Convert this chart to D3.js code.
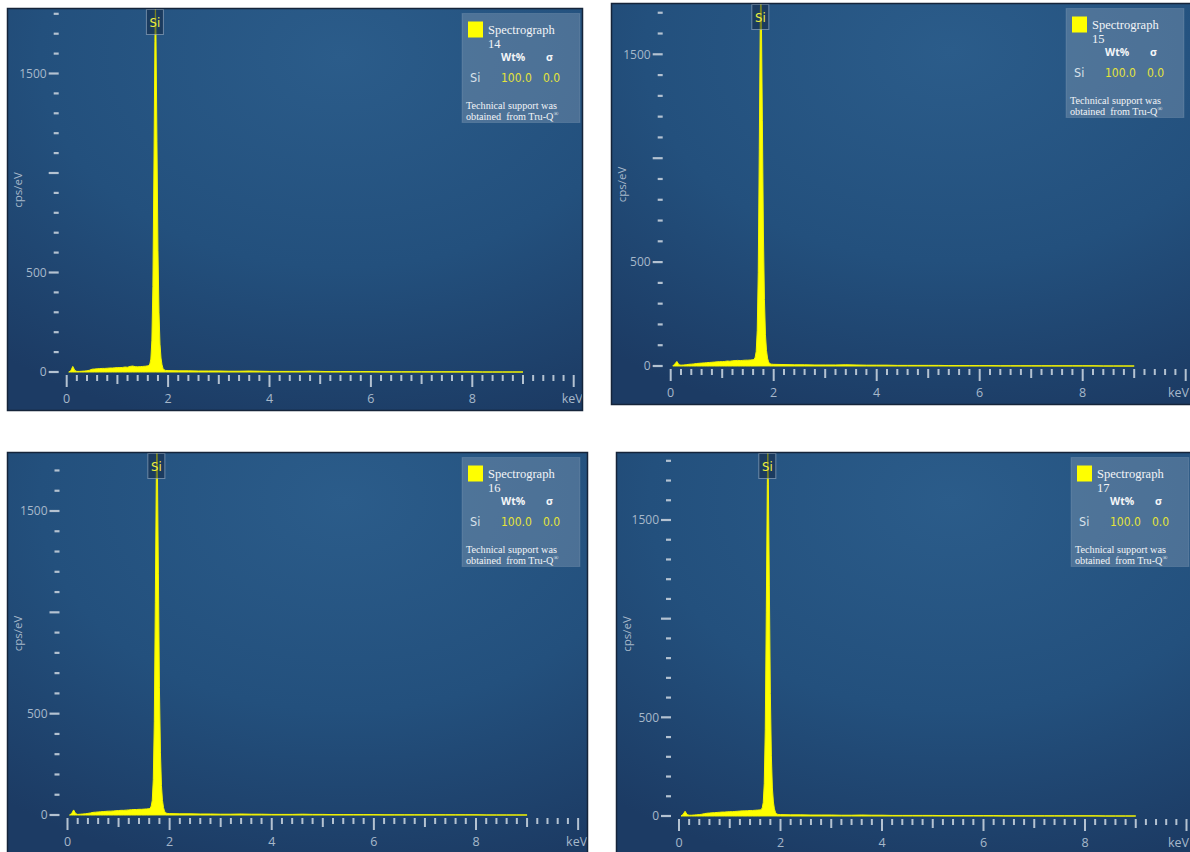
<!DOCTYPE html>
<html>
<head>
<meta charset="utf-8">
<script src="https://cdn.jsdelivr.net/npm/d3@7/dist/d3.min.js"></script>
<style>
  html, body { margin: 0; padding: 0; background: #ffffff; }
  svg { display: block; }
</style>
</head>
<body>
<svg id="chart" width="1190" height="852"></svg>
<script>
// ---- EDS spectra: energy grid (keV) shared by the four spectrographs ----
const energyKeV = [
  0.04, 0.08, 0.12, 0.16, 0.2,
  0.25, 0.3, 0.35, 0.4, 0.45, 0.5, 0.55, 0.6, 0.65, 0.7, 0.75, 0.8, 0.85, 0.9, 0.95,
  1.0, 1.05, 1.1, 1.15, 1.2, 1.25, 1.3, 1.35, 1.4, 1.45, 1.5, 1.55,
  1.6, 1.62, 1.64, 1.66, 1.68, 1.7, 1.72, 1.74, 1.75, 1.76, 1.78, 1.8, 1.82, 1.84, 1.86, 1.88, 1.9, 1.92,
  1.95, 2.0,
  2.2, 2.4, 2.6, 2.8, 3.0, 3.2, 3.4, 3.6, 3.8, 4.0, 4.2, 4.4, 4.6, 4.8, 5.0, 5.2, 5.4, 5.6, 5.8,
  6.0, 6.2, 6.4, 6.6, 6.8, 7.0, 7.2, 7.4, 7.6, 7.8, 8.0, 8.2, 8.4, 8.6, 8.8, 9.0
];

// counts per eV for each spectrograph
const counts14 = [
  0, 6, 28, 8, 3,
  3, 4, 5, 6, 9, 14, 15, 16, 17, 18, 18, 19, 20, 20, 21, 22, 22, 23, 25, 24, 28, 30, 27, 26, 27, 28, 29,
  31, 33, 40, 65, 160, 430, 1010, 1660, 1850, 1720, 1160, 610, 300, 140, 70, 36, 18, 11,
  8, 7,
  6, 6, 5, 5, 5, 4, 4, 5, 4, 3, 3, 3, 3, 4, 3, 2, 2, 2, 2, 2, 1, 1, 1, 1, 1, 1, 1, 1, 1, 1, 0, 0, 0, 0, 0
];
const counts15 = [
  0, 10, 22, 6, 4,
  5, 6, 8, 9, 10, 12, 13, 14, 15, 16, 17, 18, 19, 20, 21, 21, 22, 24, 23, 25, 26, 27, 26, 27, 28, 28, 29,
  30, 32, 42, 70, 170, 450, 1040, 1690, 1820, 1700, 1180, 640, 320, 150, 75, 38, 20, 12,
  9, 8,
  7, 6, 6, 5, 5, 5, 6, 5, 4, 4, 4, 3, 3, 3, 3, 3, 2, 2, 2, 2, 2, 1, 1, 1, 1, 1, 1, 1, 1, 1, 1, 0, 0, 0, 0
];
const counts16 = [
  0, 7, 25, 7, 3,
  4, 5, 6, 8, 10, 13, 14, 15, 16, 17, 18, 19, 19, 20, 21, 22, 23, 23, 24, 25, 26, 27, 27, 28, 28, 29, 30,
  31, 34, 44, 72, 175, 460, 1050, 1700, 1860, 1730, 1190, 630, 310, 145, 72, 37, 19, 11,
  8, 7,
  6, 6, 5, 5, 4, 4, 5, 4, 4, 3, 3, 3, 4, 3, 3, 2, 2, 2, 2, 2, 1, 1, 1, 1, 1, 1, 1, 1, 1, 1, 0, 0, 0, 0, 0
];
const counts17 = [
  0, 8, 24, 7, 4,
  4, 5, 6, 7, 9, 12, 14, 15, 16, 17, 18, 19, 20, 20, 21, 22, 22, 23, 24, 25, 26, 26, 27, 28, 28, 29, 30,
  31, 33, 41, 68, 165, 440, 1030, 1680, 1840, 1710, 1170, 620, 305, 142, 71, 36, 19, 11,
  8, 7,
  6, 6, 5, 5, 5, 4, 4, 5, 4, 4, 3, 3, 3, 3, 3, 2, 2, 2, 2, 2, 2, 1, 1, 1, 1, 1, 1, 1, 1, 1, 1, 0, 0, 0, 0
];

const spectrumCounts = [counts14, counts15, counts16, counts17];
const spectrographIds = ["14", "15", "16", "17"];

// quantification table shown in each legend
const elementNames = ["Si"];
const wtPercent = ["100.0"];
const sigmaValues = ["0.0"];
const peakLineKeV = 1.74;          // Si Kα marker

// axis labels
const xTickLabels = [0, 2, 4, 6, 8];
const yTickLabels = [0, 500, 1500];
const xUnit = "keV";
const yUnit = "cps/eV";

// ---- layout of the four panels (2 x 2) ----
const panels = [
  { left: 7,   top: 8,   width: 576, height: 403, x0: 66.7,  x8: 472.3,  y0: 372, y1500: 73.5 },
  { left: 611, top: 3,   width: 585, height: 402, x0: 670.7, x8: 1082.7, y0: 366, y1500: 54.3 },
  { left: 7,   top: 452, width: 581, height: 402, x0: 67.5,  x8: 476,    y0: 815, y1500: 511 },
  { left: 616, top: 452, width: 580, height: 402, x0: 679,   x8: 1085,   y0: 816, y1500: 520 }
];
const pageWidth = 1190;

const svg = d3.select("#chart");
const defs = svg.append("defs");

const grad = defs.append("radialGradient")
  .attr("id", "panelBg")
  .attr("cx", "0.58").attr("cy", "0.12").attr("r", "0.95")
  .attr("fx", "0.58").attr("fy", "0.12");
grad.append("stop").attr("offset", "0").attr("stop-color", "#2b5c8a");
grad.append("stop").attr("offset", "0.55").attr("stop-color", "#23507d");
grad.append("stop").attr("offset", "1").attr("stop-color", "#1c3b64");

const tickColor = "#b4c2d1";
const labelColor = "#a7b8ca";
const sansFont = "'Open Sans', 'Noto Sans', sans-serif";
const narrowFont = "'Liberation Sans Narrow', 'DejaVu Sans Condensed', 'Open Sans', sans-serif";
const serifFont = "'Liberation Serif', 'DejaVu Serif', serif";

panels.forEach((p, i) => {
  const g = svg.append("g");

  defs.append("clipPath").attr("id", "clip" + i)
    .append("rect")
    .attr("x", p.left).attr("y", p.top)
    .attr("width", p.width).attr("height", p.height);

  const body = g.append("g").attr("clip-path", "url(#clip" + i + ")");

  // panel background
  body.append("rect")
    .attr("x", p.left).attr("y", p.top)
    .attr("width", p.width).attr("height", p.height)
    .attr("fill", "url(#panelBg)");

  const x = d3.scaleLinear().domain([0, 8]).range([p.x0, p.x8]);
  const y = d3.scaleLinear().domain([0, 1500]).range([p.y0, p.y1500]);

  // ---- spectrum ----
  const pts = d3.zip(energyKeV, spectrumCounts[i]).map(([e, c]) => ({ e, c }));
  const area = d3.area()
    .x(d => x(d.e))
    .y0(y(0))
    .y1(d => y(d.c))
    .curve(d3.curveLinear);
  body.append("path")
    .datum(pts)
    .attr("d", area)
    .attr("fill", "#ffff00")
    .attr("stroke", "#f4f400")
    .attr("stroke-width", 1)
    .attr("stroke-linejoin", "round");

  // ---- x axis ticks (every 0.2 keV, longer at whole keV) ----
  const xt = d3.range(0, 50.5, 1).map(k => k / 5);
  body.append("g").selectAll("line")
    .data(xt)
    .join("line")
    .attr("x1", d => x(d)).attr("x2", d => x(d))
    .attr("y1", y(0) + 3)
    .attr("y2", (d, k) => y(0) + 3 + (k % 10 === 0 ? 12 : (k % 5 === 0 ? 9 : 6)))
    .attr("stroke", tickColor)
    .attr("stroke-width", 2);

  body.append("g").selectAll("text")
    .data(xTickLabels)
    .join("text")
    .attr("x", d => x(d))
    .attr("y", y(0) + 31)
    .attr("text-anchor", "middle")
    .attr("font-family", sansFont)
    .attr("font-size", 12.5)
    .attr("fill", labelColor)
    .text(d => d);

  // unit label sits under the 10 keV tick, kept inside the page
  const unitRight = Math.min(x(10) + 9, pageWidth - 1);
  body.append("text")
    .attr("x", unitRight)
    .attr("y", y(0) + 31)
    .attr("text-anchor", "end")
    .attr("font-family", sansFont)
    .attr("font-size", 12.5)
    .attr("fill", labelColor)
    .text(xUnit);

  // ---- y axis ticks (every 100 cps/eV, longer at 500s) ----
  const axisX = p.x0 - 8;
  const yt = d3.range(0, 2000, 100).filter(v => y(v) > p.top + 4);
  body.append("g").selectAll("line")
    .data(yt)
    .join("line")
    .attr("x1", d => axisX - (d % 500 === 0 ? 10 : 5))
    .attr("x2", axisX)
    .attr("y1", d => y(d)).attr("y2", d => y(d))
    .attr("stroke", tickColor)
    .attr("stroke-width", 2.2);

  body.append("g").selectAll("text")
    .data(yTickLabels)
    .join("text")
    .attr("x", axisX - 12)
    .attr("y", d => y(d))
    .attr("dy", "0.36em")
    .attr("text-anchor", "end")
    .attr("font-family", sansFont)
    .attr("font-size", 12)
    .attr("fill", labelColor)
    .text(d => d);

  body.append("text")
    .attr("transform", `translate(${p.left + 15},${(p.y0 + p.top) / 2}) rotate(-90)`)
    .attr("text-anchor", "middle")
    .attr("font-family", sansFont)
    .attr("font-size", 11.5)
    .attr("fill", labelColor)
    .text(yUnit);

  // ---- Si line marker ----
  const mx = x(peakLineKeV);
  body.append("rect")
    .attr("x", mx - 8.5).attr("y", p.top + 1.5)
    .attr("width", 17).attr("height", 25)
    .attr("fill", "rgba(18,38,68,0.55)")
    .attr("stroke", "rgba(160,178,198,0.6)")
    .attr("stroke-width", 1);
  body.append("text")
    .attr("x", mx).attr("y", p.top + 18.5)
    .attr("text-anchor", "middle")
    .attr("font-family", narrowFont)
    .attr("font-size", 13)
    .attr("fill", "#eeee40")
    .text(elementNames[0]);

  // ---- legend / quantification box ----
  const lx = p.left + 455, ly = p.top + 5.5;
  const lg = body.append("g").attr("transform", `translate(${lx},${ly})`);
  lg.append("rect")
    .attr("width", 118).attr("height", 109)
    .attr("fill", "#8fa4ba").attr("fill-opacity", 0.38)
    .attr("stroke", "rgba(255,255,255,0.12)");
  lg.append("rect")
    .attr("x", 6).attr("y", 8).attr("width", 15).attr("height", 16)
    .attr("fill", "#ffff00");
  lg.append("text")
    .attr("x", 26).attr("y", 20)
    .attr("font-family", serifFont).attr("font-size", 12.5)
    .attr("fill", "#f2f4f7")
    .text("Spectrograph");
  lg.append("text")
    .attr("x", 26).attr("y", 34)
    .attr("font-family", serifFont).attr("font-size", 12.5)
    .attr("fill", "#f2f4f7")
    .text(spectrographIds[i]);
  lg.append("text")
    .attr("x", 39).attr("y", 47)
    .attr("font-family", sansFont).attr("font-size", 10.5).attr("font-weight", "bold")
    .attr("fill", "#f4f6f8")
    .text("Wt%");
  lg.append("text")
    .attr("x", 84).attr("y", 47)
    .attr("font-family", sansFont).attr("font-size", 10.5).attr("font-weight", "bold")
    .attr("fill", "#f4f6f8")
    .text("σ");

  elementNames.forEach((el, r) => {
    const by = 68 + r * 16;
    lg.append("text")
      .attr("x", 8).attr("y", by)
      .attr("font-family", narrowFont).attr("font-size", 12.5)
      .attr("fill", "#d9e1ea").text(el);
    lg.append("text")
      .attr("x", 39).attr("y", by)
      .attr("font-family", narrowFont).attr("font-size", 12)
      .attr("fill", "#e4e43a").text(wtPercent[r]);
    lg.append("text")
      .attr("x", 81).attr("y", by)
      .attr("font-family", narrowFont).attr("font-size", 12)
      .attr("fill", "#e4e43a").text(sigmaValues[r]);
  });

  lg.append("text")
    .attr("x", 4).attr("y", 95)
    .attr("font-family", serifFont).attr("font-size", 10.2)
    .attr("fill", "#f2f4f7")
    .text("Technical support was");
  const t2 = lg.append("text")
    .attr("x", 4).attr("y", 106)
    .attr("font-family", serifFont).attr("font-size", 10.2)
    .attr("fill", "#f2f4f7");
  t2.append("tspan").text("obtained\u00a0 from Tru-Q");
  t2.append("tspan").attr("font-size", 6.5).attr("dy", -4).text("®");

  // panel frame
  g.append("rect")
    .attr("x", p.left + 0.5).attr("y", p.top + 0.5)
    .attr("width", p.width - 1).attr("height", p.height - 1)
    .attr("fill", "none")
    .attr("stroke", "#15243a")
    .attr("stroke-width", 1.5);
});
</script>
</body>
</html>
